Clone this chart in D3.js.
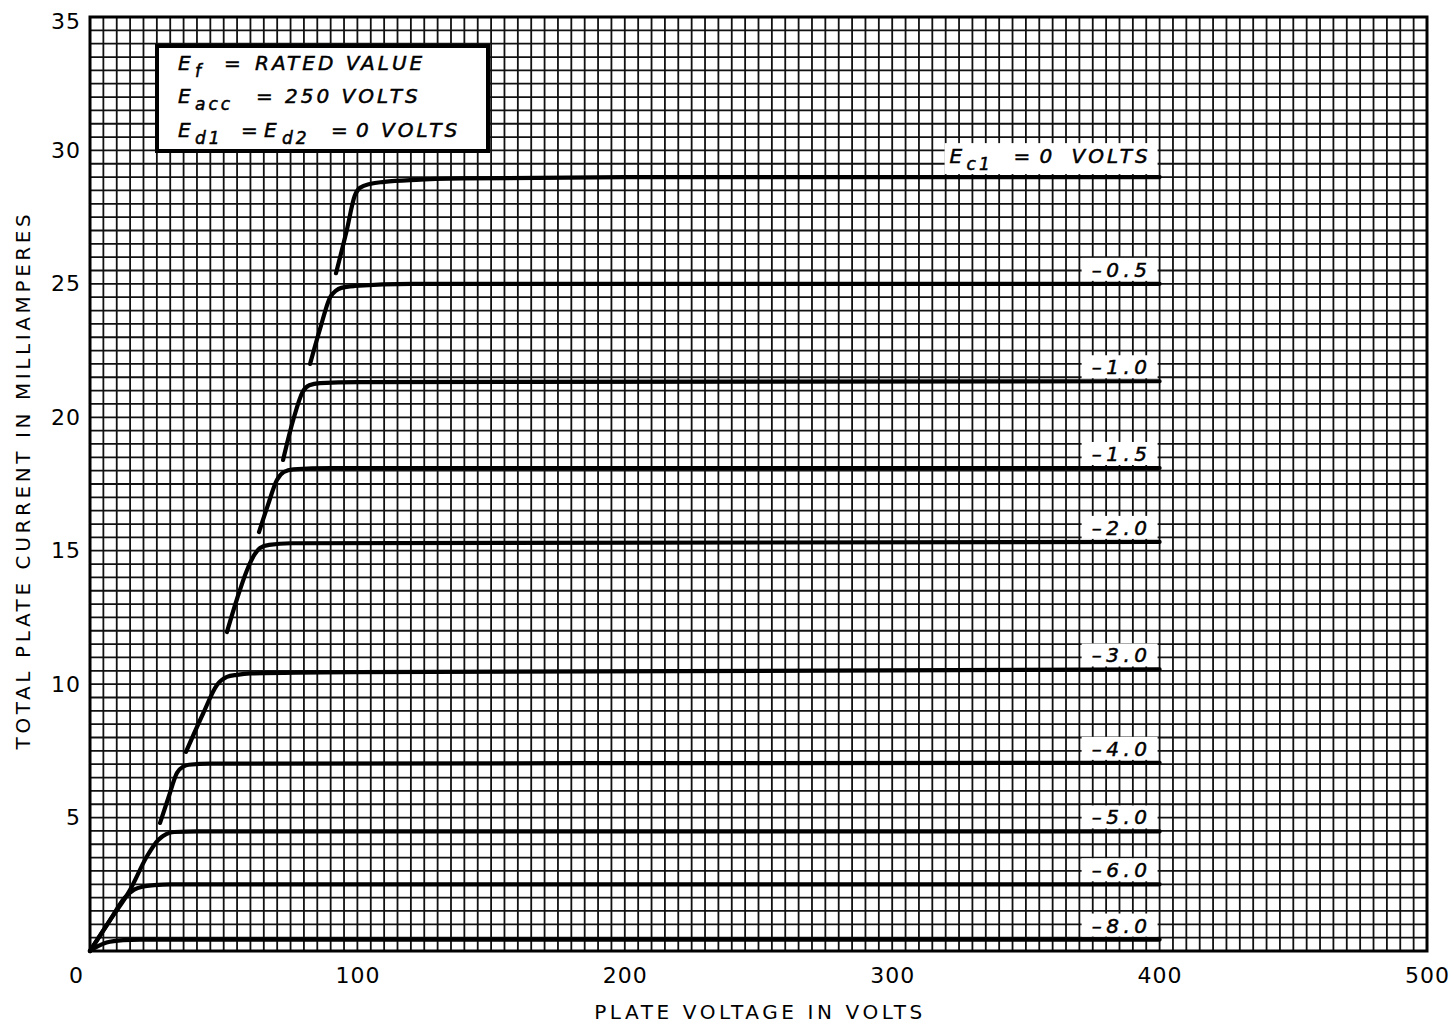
<!DOCTYPE html>
<html>
<head>
<meta charset="utf-8">
<script src="https://cdn.jsdelivr.net/npm/d3@7"></script>
<style>
  body { margin: 0; background: #fff; }
  svg { display: block; }
</style>
</head>
<body>
<div id="chart"></div>
<script>
const width = 1454;
const height = 1027;
const margin = { top: 17, right: 27, bottom: 76, left: 90 };

// axis ticks
const xTicks = [0, 100, 200, 300, 400, 500];
const yTicks = [5, 10, 15, 20, 25, 30, 35];

// one curve per grid-1 bias: plate volts / total plate mA
const bias0V = [92, 96, 99, 101, 105, 110, 122, 140, 200, 400];
const bias0I = [25.4, 27.0, 28.3, 28.6, 28.75, 28.82, 28.9, 28.95, 29.0, 29.0];
const bias05V = [82.3, 86, 89.8, 92, 94, 99, 120, 400];
const bias05I = [22.0, 23.3, 24.5, 24.75, 24.85, 24.92, 25.0, 25.0];
const bias10V = [72.2, 76, 79.5, 82, 86, 100, 400];
const bias10I = [18.4, 19.9, 20.95, 21.2, 21.28, 21.32, 21.35];
const bias15V = [63.2, 66.5, 69.9, 72.5, 76, 90, 400];
const bias15I = [15.7, 16.7, 17.65, 17.95, 18.05, 18.1, 18.1];
const bias20V = [51.2, 55, 58.7, 61.5, 63.6, 67, 75, 400];
const bias20I = [11.95, 13.2, 14.27, 14.85, 15.1, 15.22, 15.28, 15.33];
const bias30V = [35.9, 42.3, 47.5, 51.2, 55, 60, 100, 400];
const bias30I = [7.46, 8.9, 9.97, 10.27, 10.35, 10.4, 10.45, 10.55];
const bias40V = [26.2, 29.5, 32.5, 35, 37, 45, 400];
const bias40I = [4.8, 5.8, 6.67, 6.92, 6.98, 7.02, 7.05];
const bias50V = [0, 7.5, 15, 21.2, 25.5, 28.5, 31.5, 40, 400];
const bias50I = [0, 1.16, 2.29, 3.53, 4.16, 4.38, 4.46, 4.48, 4.48];
const bias60V = [0, 7.5, 13, 16.5, 20, 24, 30, 400];
const bias60I = [0, 1.16, 2.0, 2.3, 2.42, 2.47, 2.5, 2.5];
const bias80V = [0, 3, 6.2, 12.4, 18.7, 30, 400];
const bias80I = [0, 0.18, 0.32, 0.41, 0.43, 0.43, 0.43];

const biasLabels = ["0 VOLTS", "-0.5", "-1.0", "-1.5", "-2.0", "-3.0", "-4.0", "-5.0", "-6.0", "-8.0"];

const curves = [
    [bias0V, bias0I], [bias05V, bias05I], [bias10V, bias10I], [bias15V, bias15I],
    [bias20V, bias20I], [bias30V, bias30I], [bias40V, bias40I], [bias50V, bias50I],
    [bias60V, bias60I], [bias80V, bias80I]
].map(([v, i], k) => ({
    label: biasLabels[k],
    points: v.map((d, j) => ({ v: d, i: i[j] }))
}));

const svg = d3.select("#chart")
    .append("svg")
    .attr("width", width)
    .attr("height", height);

const xScale = d3.scaleLinear().domain([0, 500]).range([margin.left, width - margin.right]);
const yScale = d3.scaleLinear().domain([0, 35]).range([height - margin.bottom, margin.top]);

// graph paper: 5 V by 0.5 mA squares
const grid = svg.append("g").attr("stroke", "#111").attr("stroke-width", 1.8);
grid.selectAll(".vline")
    .data(d3.range(0, 501, 5))
    .enter()
    .append("line")
    .attr("x1", d => xScale(d))
    .attr("x2", d => xScale(d))
    .attr("y1", yScale(0))
    .attr("y2", yScale(35));
grid.selectAll(".hline")
    .data(d3.range(0, 70.5, 1).map(d => d / 2))
    .enter()
    .append("line")
    .attr("x1", xScale(0))
    .attr("x2", xScale(500))
    .attr("y1", d => yScale(d))
    .attr("y2", d => yScale(d));

svg.append("rect")
    .attr("x", xScale(0))
    .attr("y", yScale(35))
    .attr("width", xScale(500) - xScale(0))
    .attr("height", yScale(0) - yScale(35))
    .attr("fill", "none")
    .attr("stroke", "#000")
    .attr("stroke-width", 3);

// axes (labels only, the paper is the grid)
const xAxisGroup = svg.append("g")
    .attr("transform", `translate(0,${yScale(0)})`)
    .call(d3.axisBottom(xScale).tickValues(xTicks).tickSize(0).tickPadding(16));
const yAxisGroup = svg.append("g")
    .attr("transform", `translate(${xScale(0)},0)`)
    .call(d3.axisLeft(yScale).tickValues(yTicks).tickSize(0).tickPadding(9));
[xAxisGroup, yAxisGroup].forEach(g => {
    g.select(".domain").remove();
    g.selectAll("text")
        .style("font-family", "'DejaVu Sans', sans-serif")
        .style("font-size", "22px")
        .style("letter-spacing", "1px")
        .attr("fill", "#000");
});
xAxisGroup.selectAll("text").filter(d => d === 0).attr("dx", "-14px");
yAxisGroup.selectAll("text").filter(d => d === 35).attr("dy", "0.5em");

svg.append("text")
    .attr("x", 760)
    .attr("y", 1019)
    .attr("text-anchor", "middle")
    .style("font-family", "'DejaVu Sans', sans-serif")
    .style("font-size", "20px")
    .style("letter-spacing", "3.6px")
    .text("PLATE VOLTAGE IN VOLTS");
svg.append("text")
    .attr("transform", "rotate(-90)")
    .attr("x", -480)
    .attr("y", 30)
    .attr("text-anchor", "middle")
    .style("font-family", "'DejaVu Sans', sans-serif")
    .style("font-size", "20px")
    .style("letter-spacing", "3.6px")
    .text("TOTAL PLATE CURRENT IN MILLIAMPERES");

// characteristic curves
const line = d3.line()
    .x(d => xScale(d.v))
    .y(d => yScale(d.i))
    .curve(d3.curveMonotoneX);

svg.selectAll(".curve")
    .data(curves)
    .enter()
    .append("path")
    .attr("class", "curve")
    .attr("d", d => line(d.points))
    .attr("fill", "none")
    .attr("stroke", "#000")
    .attr("stroke-width", 4.2)
    .attr("stroke-linecap", "round");

// labels sit on white patches above the right end of each curve
const letterFont = "'DejaVu Sans', sans-serif";
const labels = svg.selectAll(".curve-label")
    .data(curves)
    .enter()
    .append("g")
    .attr("class", "curve-label")
    .attr("transform", d => {
        const last = d.points[d.points.length - 1];
        return `translate(${xScale(last.v)},${yScale(last.i) - 2})`;
    });
labels.append("rect")
    .attr("x", (d, k) => k === 0 ? -215 : -78)
    .attr("y", (d, k) => k === 0 ? -32 : -24)
    .attr("width", (d, k) => k === 0 ? 213 : 76)
    .attr("height", (d, k) => k === 0 ? 31 : 23)
    .attr("fill", "#fff");
labels.filter((d, k) => k > 0)
    .append("text")
    .attr("x", -8)
    .attr("y", -5)
    .attr("text-anchor", "end")
    .attr("stroke", "#000")
    .attr("stroke-width", 0.5)
    .style("font-family", letterFont)
    .style("font-style", "italic")
    .style("font-size", "20px")
    .style("letter-spacing", "4.5px")
    .text(d => d.label.replace("-", "\u2013"));

const firstLabel = labels.filter((d, k) => k === 0)
    .append("text")
    .attr("y", -12)
    .attr("stroke", "#000")
    .attr("stroke-width", 0.5)
    .style("font-family", letterFont)
    .style("font-style", "italic")
    .style("font-size", "20px")
    .style("letter-spacing", "3px");
firstLabel.append("tspan").attr("x", -210).text("E");
firstLabel.append("tspan").attr("x", -193).attr("dy", 7).style("font-size", "17px").text("c1");
firstLabel.append("tspan").attr("x", -146).attr("dy", -7).text("=");
firstLabel.append("tspan").attr("x", -120).text("0");
firstLabel.append("tspan").attr("x", -88).text("VOLTS");

// operating conditions box
const legend = svg.append("g");
legend.append("rect")
    .attr("x", 157)
    .attr("y", 46)
    .attr("width", 331)
    .attr("height", 105)
    .attr("fill", "#fff")
    .attr("stroke", "#000")
    .attr("stroke-width", 4);

const legendLines = [
    [["E", 178, 0, 20], ["f", 195, 7, 17], ["=", 224, -7, 20], ["RATED VALUE", 255, 0, 20]],
    [["E", 178, 0, 20], ["acc", 195, 7, 17], ["=", 256, -7, 20], ["250 VOLTS", 285, 0, 20]],
    [["E", 178, 0, 20], ["d1", 195, 7, 17], ["=", 241, -7, 20], ["E", 264, 0, 20], ["d2", 282, 7, 17], ["=", 331, -7, 20], ["0 VOLTS", 356, 0, 20]]
];
const legendBaselines = [70, 103, 137];

legendLines.forEach((parts, k) => {
    const t = legend.append("text")
        .attr("y", legendBaselines[k])
        .attr("stroke", "#000")
        .attr("stroke-width", 0.5)
        .style("font-family", letterFont)
        .style("font-style", "italic")
        .style("letter-spacing", "3px");
    parts.forEach(([txt, x, dy, size]) => {
        t.append("tspan")
            .attr("x", x)
            .attr("dy", dy)
            .style("font-size", size + "px")
            .text(txt);
    });
});
</script>
</body>
</html>
